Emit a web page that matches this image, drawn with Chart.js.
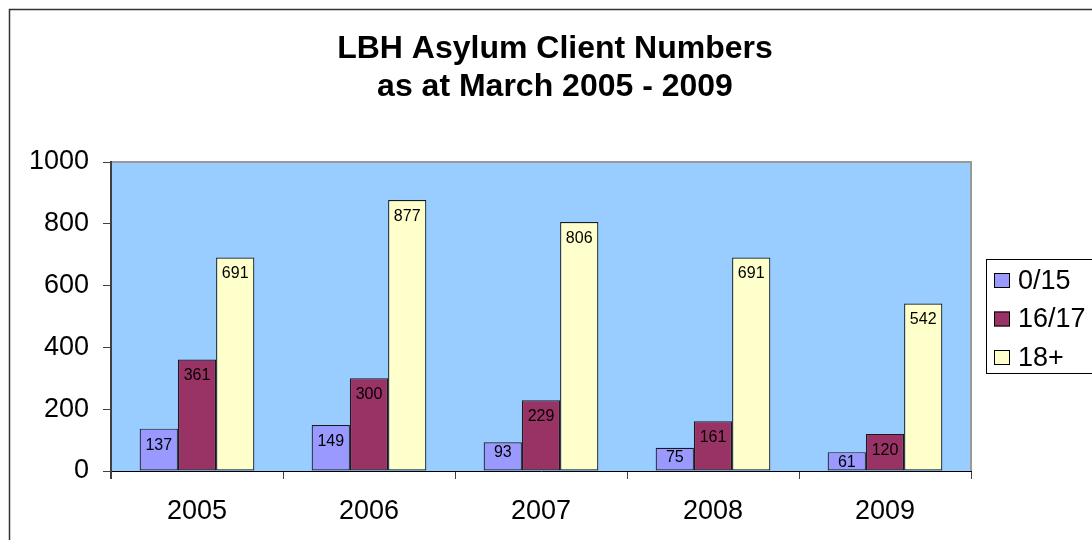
<!DOCTYPE html>
<html>
<head>
<meta charset="utf-8">
<script src="https://cdn.jsdelivr.net/npm/chart.js@4"></script>
<style>
  html, body { margin: 0; padding: 0; background: #ffffff; }
  #wrap { width: 1092px; height: 540px; position: relative; }
</style>
</head>
<body>
<div id="wrap"><canvas id="c"></canvas></div>
<script>
const categories = ['2005', '2006', '2007', '2008', '2009'];
const seriesLabels = ['0/15', '16/17', '18+'];
const values0to15 = [137, 149, 93, 75, 61];
const values16to17 = [361, 300, 229, 161, 120];
const values18plus = [691, 877, 806, 691, 542];
const yMin = 0, yMax = 1000, yStep = 200;
const titleLines = ['LBH Asylum Client Numbers', 'as at March 2005 - 2009'];

const FONT = "'Liberation Sans', Arial, sans-serif";
const seriesColors = ['#9999FF', '#993366', '#FFFFCC'];

const chartDecor = {
  id: 'chartDecor',
  beforeDraw(chart) {
    const { ctx, chartArea: a } = chart;
    ctx.save();
    ctx.fillStyle = '#99CCFF';
    ctx.fillRect(a.left, a.top, a.right - a.left, a.bottom - a.top);
    ctx.restore();
  },
  afterDatasetsDraw(chart) {
    const { ctx } = chart;
    ctx.save();
    ctx.font = '16px ' + FONT;
    ctx.fillStyle = '#000';
    ctx.textAlign = 'center';
    ctx.textBaseline = 'middle';
    chart.data.datasets.forEach((ds, di) => {
      const meta = chart.getDatasetMeta(di);
      meta.data.forEach((bar, i) => {
        const h = bar.base - bar.y;
        const off = h < 35 ? 10 : 16.5;
        ctx.fillText(String(ds.data[i]), bar.x, bar.y + off);
      });
    });
    ctx.restore();
  },
  afterDraw(chart) {
    const { ctx, chartArea: a } = chart;
    ctx.save();
    // plot area border (top, right)
    ctx.strokeStyle = '#999';
    ctx.lineWidth = 2;
    ctx.beginPath();
    ctx.moveTo(a.left, a.top);
    ctx.lineTo(a.right, a.top);
    ctx.lineTo(a.right, a.bottom);
    ctx.stroke();
    // y axis line redraw (dark)
    ctx.strokeStyle = '#404040';
    ctx.lineWidth = 2;
    ctx.beginPath();
    ctx.moveTo(a.left, a.top - 1);
    ctx.lineTo(a.left, a.bottom + 8);
    ctx.stroke();
    // outer chart frame
    ctx.strokeStyle = '#333';
    ctx.lineWidth = 1.5;
    ctx.beginPath();
    ctx.moveTo(9.5, 540);
    ctx.lineTo(9.5, 9.5);
    ctx.lineTo(1092, 9.5);
    ctx.stroke();
    // legend
    const lx = 986, ly = 259, lh = 114;
    ctx.strokeStyle = '#000';
    ctx.lineWidth = 1;
    ctx.strokeRect(lx + 0.5, ly + 0.5, 200, lh);
    ctx.font = '27px ' + FONT;
    ctx.textAlign = 'left';
    ctx.textBaseline = 'middle';
    chart.data.datasets.forEach((ds, i) => {
      const cy = 280.5 + i * 38.5;
      ctx.fillStyle = ds.backgroundColor;
      ctx.fillRect(994, cy - 7.5, 16, 15);
      ctx.strokeStyle = '#000';
      ctx.strokeRect(994.5, cy - 7, 15, 14);
      ctx.fillStyle = '#000';
      ctx.fillText(ds.label, 1018, cy + 1);
    });
    ctx.restore();
  }
};

const datasets = [values0to15, values16to17, values18plus].map((vals, i) => ({
  label: seriesLabels[i],
  data: vals,
  backgroundColor: seriesColors[i],
  borderColor: '#1a1a1a',
  borderWidth: 1.2,
  borderSkipped: false,
  categoryPercentage: 3 / 4.5,
  barPercentage: 1.0
}));

new Chart(document.getElementById('c'), {
  type: 'bar',
  data: { labels: categories, datasets },
  plugins: [chartDecor],
  options: {
    responsive: true,
    maintainAspectRatio: false,
    animation: false,
    layout: { padding: { left: 18, right: 0, top: 0, bottom: 0 } },
    plugins: {
      legend: { display: false },
      tooltip: { enabled: false },
      title: {
        display: true,
        text: titleLines,
        color: '#000',
        font: { family: FONT, size: 32, weight: 'bold', lineHeight: 38 / 32 },
        padding: { top: 30, bottom: 56 }
      }
    },
    scales: {
      x: {
        grid: { display: true, drawOnChartArea: false, drawTicks: true, tickLength: 8, color: '#404040', offset: true },
        border: { display: true, color: '#000', width: 1 },
        ticks: { color: '#000', font: { family: FONT, size: 27 }, padding: 16, maxRotation: 0 },
        afterFit(scale) { scale.height = 69; }
      },
      y: {
        min: yMin, max: yMax,
        ticks: { stepSize: yStep, color: '#000', font: { family: FONT, size: 27 }, padding: 14,
                 callback: (v) => String(v) },
        grid: { display: true, drawOnChartArea: false, drawTicks: true, tickLength: 8, color: '#404040' },
        border: { display: true, color: '#404040', width: 2 },
        afterFit(scale) { scale.width = 93; }
      },
      yRight: {
        position: 'right',
        display: true,
        min: yMin, max: yMax,
        grid: { display: false, drawTicks: false },
        border: { display: false },
        ticks: { display: false },
        afterFit(scale) { scale.width = 121; }
      }
    }
  }
});
</script>
</body>
</html>
